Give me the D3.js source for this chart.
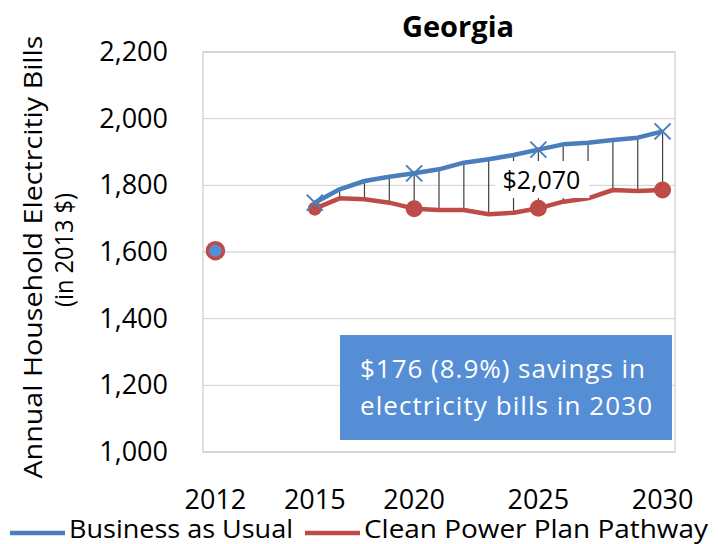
<!DOCTYPE html>
<html>
<head>
<meta charset="utf-8">
<script src="https://cdnjs.cloudflare.com/ajax/libs/d3/7.8.5/d3.min.js"></script>
<style>
  body { margin: 0; background: #fff; }
  svg text { font-family: "Open Sans", "Noto Sans", sans-serif; fill: #000; }
</style>
</head>
<body>
<div id="chart"></div>
<script>
// category slots on the x axis (only some are labelled)
let tickLabels = ["2012", "", "", "", "2015", "", "", "", "2020", "", "", "", "", "2025", "", "", "", "", "2030"];
let yTicks = [1000, 1200, 1400, 1600, 1800, 2000, 2200];

// Business as Usual / Clean Power Plan Pathway, by slot
let bau = [null, null, null, null, 1748, 1788, 1813, 1826, 1836, 1848, 1868, 1878, 1891, 1907, 1923, 1928, 1936, 1943, 1962];
let cpp = [null, null, null, null, 1730, 1761, 1758, 1748, 1730, 1726, 1726, 1713, 1718, 1731, 1751, 1761, 1786, 1783, 1786];
let start2012 = 1604;
let markerSlots = [4, 8, 13, 18];

let seriesNames = ["Business as Usual", "Clean Power Plan Pathway"];
let blue = "#4a7ebb", red = "#be4b48";

let margin = { top: 52, right: 43, bottom: 92, left: 203 },
    width = 718 - margin.left - margin.right,
    height = 544 - margin.top - margin.bottom;

let root = d3.select("#chart").append("svg")
    .attr("width", 718)
    .attr("height", 544);

let svg = root.append("g")
    .attr("transform", "translate(" + margin.left + "," + margin.top + ")");

let x = d3.scaleBand()
    .domain(d3.range(tickLabels.length))
    .range([0, width]);

let y = d3.scaleLinear()
    .domain([1000, 2200])
    .range([height, 0]);

let cx = function (i) { return x(i) + x.bandwidth() / 2; };

// gridlines
svg.append("g")
    .selectAll("line")
    .data(yTicks)
    .enter()
    .append("line")
    .attr("x1", 0).attr("x2", width)
    .attr("y1", d => y(d)).attr("y2", d => y(d))
    .attr("stroke", "#d9d9d9")
    .attr("stroke-width", 1.3);

svg.append("rect")
    .attr("width", width)
    .attr("height", height)
    .attr("fill", "none")
    .attr("stroke", "#cfcfcf")
    .attr("stroke-width", 1.3);

// y axis labels
let yAxis = d3.axisLeft(y)
    .tickValues(yTicks)
    .tickSize(0)
    .tickPadding(35)
    .tickFormat(d3.format(","));
svg.append("g").call(yAxis)
    .call(g => g.select(".domain").remove())
    .selectAll("text")
    .style("font-size", "27px");

// x axis labels (only the labelled slots)
let xAxis = d3.axisBottom(x)
    .tickValues(d3.range(tickLabels.length).filter(i => tickLabels[i] != ""))
    .tickSize(0)
    .tickPadding(38)
    .tickFormat(i => tickLabels[i]);
svg.append("g")
    .attr("transform", "translate(0," + height + ")")
    .call(xAxis)
    .call(g => g.select(".domain").remove())
    .selectAll("text")
    .style("font-size", "27px");

// drop lines between the two series
let pairs = d3.range(tickLabels.length).filter(i => bau[i] != null && cpp[i] != null);
svg.append("g")
    .selectAll("line")
    .data(pairs)
    .enter()
    .append("line")
    .attr("x1", i => cx(i)).attr("x2", i => cx(i))
    .attr("y1", i => y(bau[i])).attr("y2", i => y(cpp[i]))
    .attr("stroke", "#404040")
    .attr("stroke-width", 1.2);

let line = function (vals) {
    return d3.line()
        .defined(i => vals[i] != null)
        .x(i => cx(i))
        .y(i => y(vals[i]));
};

svg.append("path")
    .datum(d3.range(tickLabels.length))
    .attr("d", line(cpp))
    .attr("fill", "none")
    .attr("stroke", red)
    .attr("stroke-width", 4.5)
    .attr("stroke-linejoin", "round");

svg.append("g")
    .selectAll("circle")
    .data(markerSlots)
    .enter()
    .append("circle")
    .attr("cx", i => cx(i))
    .attr("cy", i => y(cpp[i]))
    .attr("r", i => i == 4 ? 7 : 8.5)
    .attr("fill", red);

svg.append("path")
    .datum(d3.range(tickLabels.length))
    .attr("d", line(bau))
    .attr("fill", "none")
    .attr("stroke", blue)
    .attr("stroke-width", 4.5)
    .attr("stroke-linejoin", "round");

let xs = 8;
let marks = svg.append("g")
    .selectAll("g")
    .data(markerSlots)
    .enter()
    .append("g")
    .attr("transform", i => "translate(" + cx(i) + "," + y(bau[i]) + ")");
marks.append("line")
    .attr("x1", -xs).attr("y1", -xs).attr("x2", xs).attr("y2", xs)
    .attr("stroke", blue).attr("stroke-width", 2);
marks.append("line")
    .attr("x1", -xs).attr("y1", xs).attr("x2", xs).attr("y2", -xs)
    .attr("stroke", blue).attr("stroke-width", 2);

// 2012 starting point
svg.append("circle")
    .attr("cx", cx(0))
    .attr("cy", y(start2012))
    .attr("r", 8)
    .attr("fill", "#558ed5")
    .attr("stroke", red)
    .attr("stroke-width", 3.5);

// $2,070 label
let lab = svg.append("g")
    .attr("transform", "translate(" + (cx(13) + 3) + "," + y(1816) + ")");
lab.append("rect")
    .attr("x", -46).attr("y", -19)
    .attr("width", 94).attr("height", 37)
    .attr("fill", "#fff");
lab.append("text")
    .attr("text-anchor", "middle")
    .attr("y", 9)
    .style("font-size", "25px")
    .text("$2,070");

// savings box
let box = svg.append("g").attr("transform", "translate(137,283)");
box.append("rect")
    .attr("width", 332)
    .attr("height", 105)
    .attr("fill", "#558ed5");
box.append("text")
    .attr("x", 20).attr("y", 43)
    .style("font-size", "26px")
    .style("fill", "#fff")
    .attr("textLength", 285)
    .text("$176 (8.9%) savings in");
box.append("text")
    .attr("x", 20).attr("y", 80)
    .style("font-size", "26px")
    .style("fill", "#fff")
    .attr("textLength", 292)
    .text("electricity bills in 2030");

// title
root.append("text")
    .attr("x", 458)
    .attr("y", 37)
    .attr("text-anchor", "middle")
    .style("font-size", "29px")
    .style("font-weight", "bold")
    .text("Georgia");

// y axis title
let yt = root.append("g")
    .attr("transform", "rotate(-90)");
yt.append("text")
    .attr("x", -257).attr("y", 42)
    .attr("text-anchor", "middle")
    .style("font-size", "25px")
    .attr("textLength", 443)
    .attr("lengthAdjust", "spacingAndGlyphs")
    .text("Annual Household Electrcitiy Bills");
yt.append("text")
    .attr("x", -250).attr("y", 73)
    .attr("text-anchor", "middle")
    .style("font-size", "25px")
    .attr("textLength", 114)
    .attr("lengthAdjust", "spacingAndGlyphs")
    .text("(in 2013 $)");

// legend
let legend = root.append("g").attr("transform", "translate(0,533)");
let lx = [10, 305];
let lw = [224, 344];
let lc = [blue, red];
seriesNames.forEach(function (name, k) {
    legend.append("line")
        .attr("x1", lx[k]).attr("x2", lx[k] + 55)
        .attr("y1", 0).attr("y2", 0)
        .attr("stroke", lc[k])
        .attr("stroke-width", 4.5);
    legend.append("text")
        .attr("x", lx[k] + 59)
        .attr("y", 5)
        .style("font-size", "25px")
        .attr("textLength", lw[k])
        .attr("lengthAdjust", "spacingAndGlyphs")
        .text(name);
});
</script>
</body>
</html>
